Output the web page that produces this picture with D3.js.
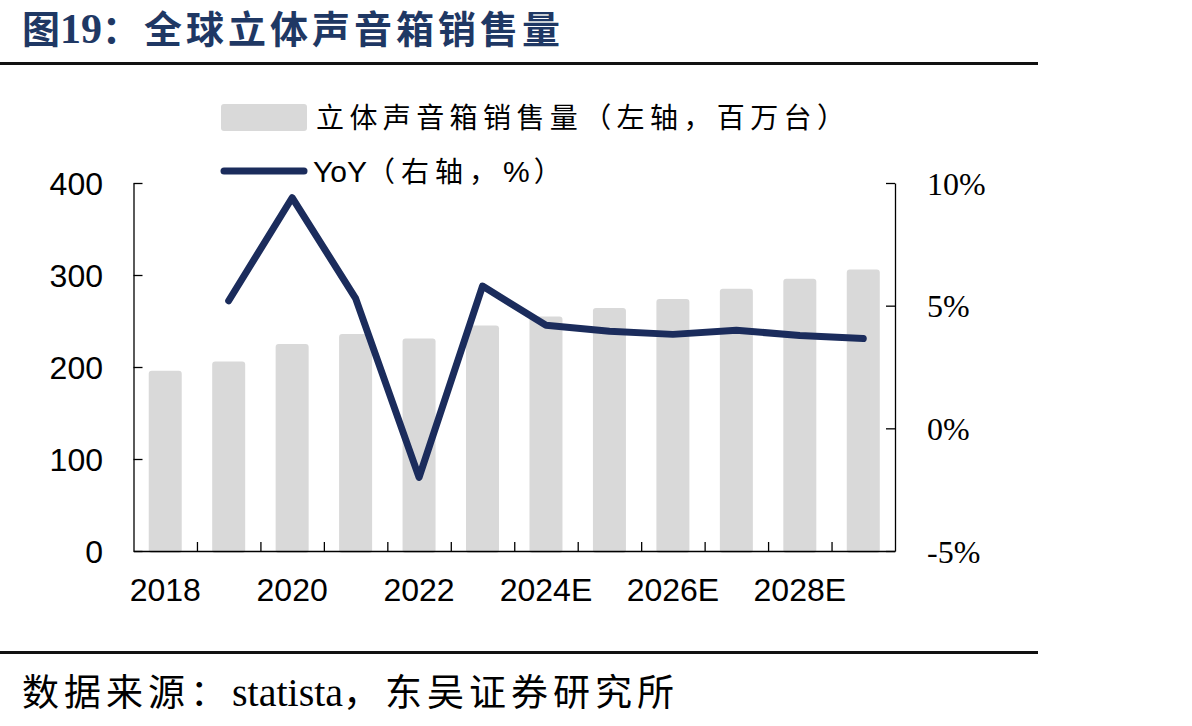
<!DOCTYPE html>
<html>
<head>
<meta charset="utf-8">
<script src="https://cdn.jsdelivr.net/npm/d3@7"></script>
<style>
  body { margin: 0; background: #fff; }
  svg { display: block; }
</style>
</head>
<body>
<svg id="chart" width="1192" height="726"></svg>
<script>
const years = ["2018", "2019", "2020", "2021", "2022", "2023", "2024E", "2025E", "2026E", "2027E", "2028E", "2029E"];
const xLabels = ["2018", "2020", "2022", "2024E", "2026E", "2028E"];
const sales = [196, 206, 225, 236, 231, 245, 255, 264, 274, 285, 296, 306];
const yoyYears = years.slice(1);
const yoy = [5.2, 9.4, 5.3, -2.0, 5.8, 4.2, 3.96, 3.83, 4.0, 3.78, 3.66];
const leftTicks = [0, 100, 200, 300, 400];
const rightTicks = [-5, 0, 5, 10];

const navy = "#1b2c5c";
const barGrey = "#d9d9d9";
const cjk = "'Noto Sans CJK SC', sans-serif";
const serif = "'Liberation Serif', 'Times New Roman', serif";
const sans = "'Liberation Sans', Arial, sans-serif";

const svg = d3.select("#chart");

// title + rules
const title = svg.append("text").attr("x", 22).attr("y", 43)
    .attr("fill", "#1f3864").attr("font-weight", "bold");
title.append("tspan").attr("font-family", cjk).attr("font-size", 38).text("图");
title.append("tspan").attr("font-family", serif).attr("font-size", 42).text("19");
title.append("tspan").attr("font-family", cjk).attr("font-size", 38).attr("letter-spacing", 4)
    .text("：全球立体声音箱销售量");

svg.append("rect").attr("x", 0).attr("y", 62).attr("width", 1038).attr("height", 3).attr("fill", "#111");
svg.append("rect").attr("x", 0).attr("y", 651).attr("width", 1038).attr("height", 3).attr("fill", "#111");

const src = svg.append("text").attr("x", 22).attr("y", 706).attr("fill", "#000");
src.append("tspan").attr("font-family", cjk).attr("font-size", 37).attr("letter-spacing", 5).text("数据来源：");
src.append("tspan").attr("font-family", serif).attr("font-size", 40).text("statista");
src.append("tspan").attr("font-family", cjk).attr("font-size", 37).attr("letter-spacing", 5).text("，东吴证券研究所");

// scales
const x = d3.scaleBand().domain(years).range([133.5, 895]).paddingInner(0.48).paddingOuter(0.24);
const yL = d3.scaleLinear().domain([0, 400]).range([551, 183]);
const yR = d3.scaleLinear().domain([-5, 10]).range([551, 183]);
const cx = d => x(d) + x.bandwidth() / 2;

// bars
svg.append("g").selectAll("rect")
    .data(years)
    .enter().append("rect")
    .attr("x", d => x(d))
    .attr("y", (d, i) => yL(sales[i]))
    .attr("width", x.bandwidth())
    .attr("height", (d, i) => yL(0) - yL(sales[i]) + 2)
    .attr("rx", 3)
    .attr("fill", barGrey);

// axes (ticks point inward)
const gL = svg.append("g").attr("transform", "translate(133.5,0)")
    .call(d3.axisRight(yL).tickValues(leftTicks).tickSize(9).tickSizeOuter(0).tickFormat(""));
const gR = svg.append("g").attr("transform", "translate(895,0)")
    .call(d3.axisLeft(yR).tickValues(rightTicks).tickSize(9).tickSizeOuter(0).tickFormat(""));
const boundaries = d3.range(1, years.length).map(i => x(years[i]) - x.step() * x.paddingInner() / 2);
const xb = d3.scaleLinear().domain([133.5, 895]).range([133.5, 895]);
const gB = svg.append("g").attr("transform", "translate(0,551)")
    .call(d3.axisTop(xb).tickValues(boundaries).tickSize(9).tickSizeOuter(0).tickFormat(""));
[gL, gR, gB].forEach(g => {
    g.select(".domain").attr("stroke", "#000").attr("stroke-width", 1.3);
    g.selectAll(".tick line").attr("stroke", "#000").attr("stroke-width", 1.3);
});

// tick labels
svg.append("g").selectAll("text").data(leftTicks).enter().append("text")
    .attr("x", 103).attr("y", d => yL(d)).attr("dy", "0.36em")
    .attr("text-anchor", "end").attr("font-family", sans).attr("font-size", 32)
    .text(d => d);
svg.append("g").selectAll("text").data(rightTicks).enter().append("text")
    .attr("x", 927).attr("y", d => yR(d)).attr("dy", "0.36em")
    .attr("font-family", serif).attr("font-size", 32)
    .text(d => d + "%");
svg.append("g").selectAll("text").data(xLabels).enter().append("text")
    .attr("x", d => cx(d)).attr("y", 601)
    .attr("text-anchor", "middle").attr("font-family", sans).attr("font-size", 32)
    .text(d => d);

// line
const line = d3.line().x(d => cx(d[0])).y(d => yR(d[1]));
svg.append("path")
    .datum(yoyYears.map((d, i) => [d, yoy[i]]))
    .attr("d", line)
    .attr("fill", "none").attr("stroke", navy).attr("stroke-width", 7)
    .attr("stroke-linejoin", "round").attr("stroke-linecap", "round");

// legend
svg.append("rect").attr("x", 221).attr("y", 104).attr("width", 86).attr("height", 27)
    .attr("rx", 3).attr("fill", barGrey);
svg.append("text").attr("x", 316).attr("y", 128).attr("font-family", cjk).attr("font-size", 28)
    .attr("letter-spacing", 5.4)
    .text("立体声音箱销售量（左轴，百万台）");
svg.append("line").attr("x1", 224).attr("x2", 304).attr("y1", 171).attr("y2", 171)
    .attr("stroke", navy).attr("stroke-width", 7).attr("stroke-linecap", "round");
const lg = svg.append("text").attr("x", 313).attr("y", 182);
lg.append("tspan").attr("font-family", sans).attr("font-size", 30).text("YoY");
lg.append("tspan").attr("font-family", cjk).attr("font-size", 28).attr("letter-spacing", 6).text("（右轴，");
lg.append("tspan").attr("font-family", sans).attr("font-size", 30).attr("letter-spacing", 4).text("%");
lg.append("tspan").attr("font-family", cjk).attr("font-size", 28).text("）");
</script>
</body>
</html>
